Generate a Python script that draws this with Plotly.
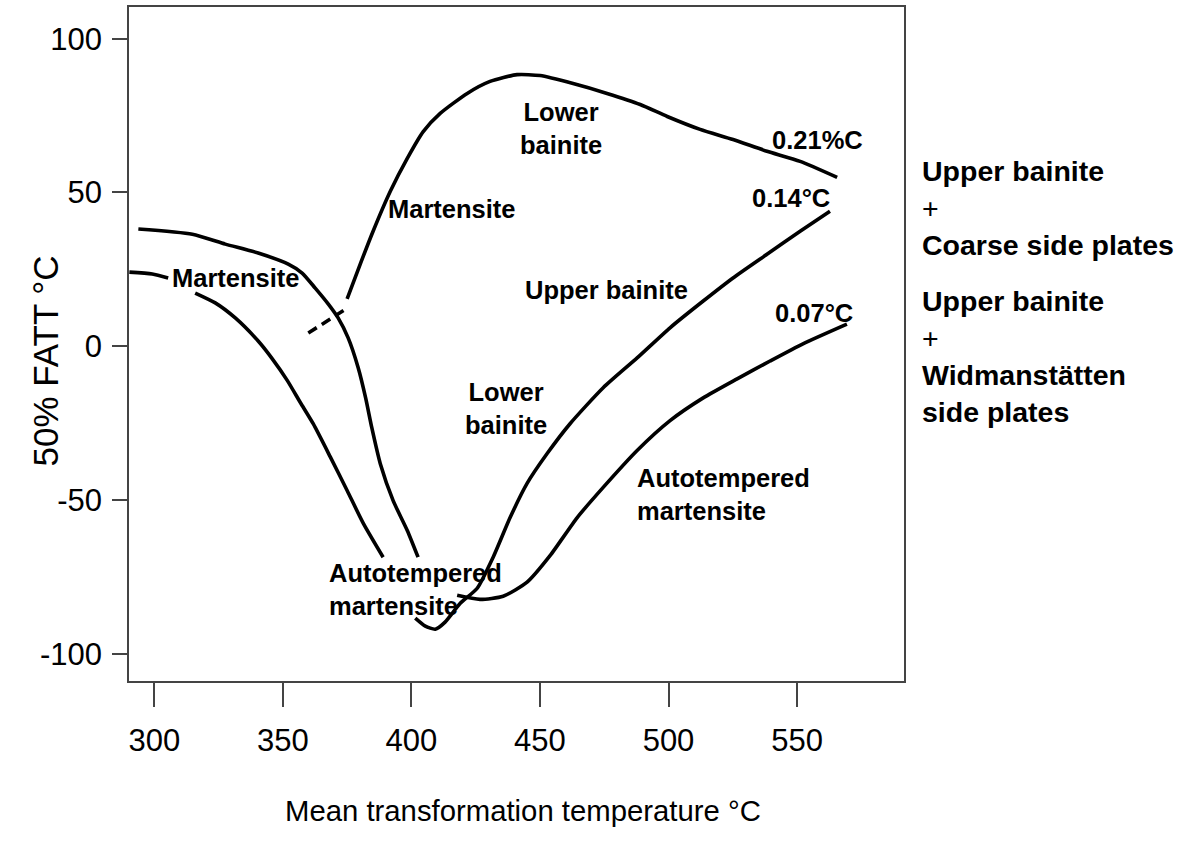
import plotly.graph_objects as go

# curve ending at the 0.07 %C label (upper "martensite" line on the left);
# None marks where the reference hides the line under a label
c07_temp = [293.8, 314.8, 327.6, 340.4, 352.1, 357.5, 362.6, 367.7, 371.5, 375.4, 379.3, 382.2,
            384.6, 387.9, 392.9, 398.4, 402.6, None, 417.8, 426.7, 435.7, 445.0, 454.0, 464.5,
            474.6, 487.8, 500.6, 513.5, 526.7, 539.5, 552.3, 569.4]
c07_fatt = [38.1, 36.4, 33.2, 30.3, 26.7, 23.8, 18.9, 13.7, 9.2, 2.7, -7.0, -16.8,
            -26.5, -38.2, -50.2, -59.9, -68.6, None, -81.0, -82.3, -81.3, -76.7, -68.0, -55.7,
            -45.9, -33.9, -24.2, -16.8, -10.6, -4.8, 0.8, 7.2]

# curve ending at the 0.14 %C label
c14_temp = [290.3, 299.2, 305.4, None, 315.9, 323.7, 331.5, 340.4, 345.9, 351.7, 356.8, 361.8,
            368.4, 375.0, 381.3, 389.0, None, 401.5, 405.4, 409.3, 413.1, 419.0, 425.6, 431.8,
            438.4, 445.0, 452.8, 461.7, 474.6, 487.8, 500.6, 513.5, 525.1, 538.3, 551.2, 562.8]
c14_fatt = [24.1, 23.5, 22.2, None, 17.3, 14.1, 9.2, 1.7, -4.1, -11.1, -18.3, -25.2,
            -35.9, -46.9, -57.6, -68.6, None, -88.4, -91.0, -92.0, -89.7, -83.6, -78.7, -68.6,
            -55.7, -44.6, -34.9, -25.2, -13.5, -3.8, 6.0, 14.7, 22.2, 29.9, 37.4, 43.9]

# 0.21 %C rising branch and its dashed link
c21_temp = [375.0, 380.1, 385.1, 391.8, 398.4, 404.6, 411.2, 421.7, 430.6, 441.1, 450.1,
            462.9, 476.1, 489.0, 499.5, 512.3, 525.1, 538.3, 551.2, 565.6]
c21_fatt = [15.4, 26.7, 37.4, 50.4, 61.1, 69.8, 75.7, 82.2, 86.1, 88.3, 88.0,
            85.4, 82.2, 78.6, 74.7, 70.5, 67.2, 63.4, 60.1, 54.9]
c21_dash_temp = [359.9, 373.6]
c21_dash_fatt = [4.3, 11.6]

x_ticks = [300, 350, 400, 450, 500, 550]
y_ticks = [-100, -50, 0, 50, 100]
y_tick_labels = ["-100", "-50", "0", "50", "100"]

# (text, x, y, xanchor)
labels = [
    ("<b>Martensite</b>", 331.9, 22.2, "center"),
    ("<b>Martensite</b>", 415.7, 44.5, "center"),
    ("<b>Lower</b><br><b>bainite</b>", 458.2, 70.8, "center"),
    ("<b>Upper bainite</b>", 475.7, 18.3, "center"),
    ("<b>Lower</b><br><b>bainite</b>", 436.9, -20.3, "center"),
    ("<b>Autotempered</b><br><b>martensite</b>", 367.3, -79.0, "left"),
    ("<b>Autotempered</b><br><b>martensite</b>", 487.0, -48.2, "left"),
    ("<b>0.21%C</b>", 558.0, 66.9, "center"),
    ("<b>0.14°C</b>", 547.7, 48.1, "center"),
    ("<b>0.07°C</b>", 556.4, 10.8, "center"),
]

# blocks outside the frame on the right (text, pixel row of block centre)
side_blocks = [
    ("<b>Upper bainite</b><br>+<br><b>Coarse side plates</b>", 207),
    ("<b>Upper bainite</b><br>+<br><b>Widmanstätten</b><br><b>side plates</b>", 356),
]

FONT = "Liberation Sans, Arial, sans-serif"

fig = go.Figure()
line = dict(color="black", width=3.6, shape="spline", smoothing=0.6)
fig.add_trace(go.Scatter(x=c07_temp, y=c07_fatt, mode="lines", line=line))
fig.add_trace(go.Scatter(x=c14_temp, y=c14_fatt, mode="lines", line=line))
fig.add_trace(go.Scatter(x=c21_temp, y=c21_fatt, mode="lines", line=line))
fig.add_trace(go.Scatter(x=c21_dash_temp, y=c21_dash_fatt, mode="lines",
                         line=dict(color="black", width=3.6, dash="10px,6px")))

for text, x, y, anchor in labels:
    fig.add_annotation(x=x, y=y, xref="x", yref="y", text=text, showarrow=False,
                       xanchor=anchor, yanchor="middle", align=anchor if anchor == "left" else "center",
                       font=dict(family=FONT, size=25.5, color="black"))

for text, py in side_blocks:
    fig.add_annotation(x=(920 - 129) / 775, y=(681 - py) / 676, xref="paper", yref="paper",
                       text=text, showarrow=False, xanchor="left", yanchor="middle",
                       align="left", font=dict(family=FONT, size=28.5, color="black"))

# axis titles
fig.add_annotation(x=(523 - 129) / 775, y=(681 - 829) / 676, xref="paper", yref="paper",
                   text="Mean transformation temperature °C", showarrow=False,
                   font=dict(family=FONT, size=29.3, color="black"))
fig.add_annotation(x=(24 - 129) / 775, y=(681 - 360) / 676, xref="paper", yref="paper",
                   text="50% FATT °C", textangle=-90, showarrow=False,
                   font=dict(family=FONT, size=35, color="black"))

axis_common = dict(showgrid=False, zeroline=False, showline=True, mirror=True,
                   linecolor="#444", linewidth=1.5, ticks="outside", tickcolor="#444",
                   tickwidth=1.5, tickfont=dict(family=FONT, size=31, color="black"))

fig.update_layout(
    width=1180, height=846,
    margin=dict(l=129, r=276, t=5, b=165),
    paper_bgcolor="white", plot_bgcolor="white",
    showlegend=False,
    xaxis=dict(range=[290.16, 591.6], tickmode="array", tickvals=x_ticks,
               ticklen=24, ticklabelstandoff=7, **axis_common),
    yaxis=dict(range=[-108.85, 110.3], tickmode="array", tickvals=y_ticks,
               ticktext=y_tick_labels, ticklen=15, ticklabelstandoff=4, **axis_common),
)

fig.write_html("out.html", config={"displayModeBar": False},
               post_script="document.body.style.margin='0';")
